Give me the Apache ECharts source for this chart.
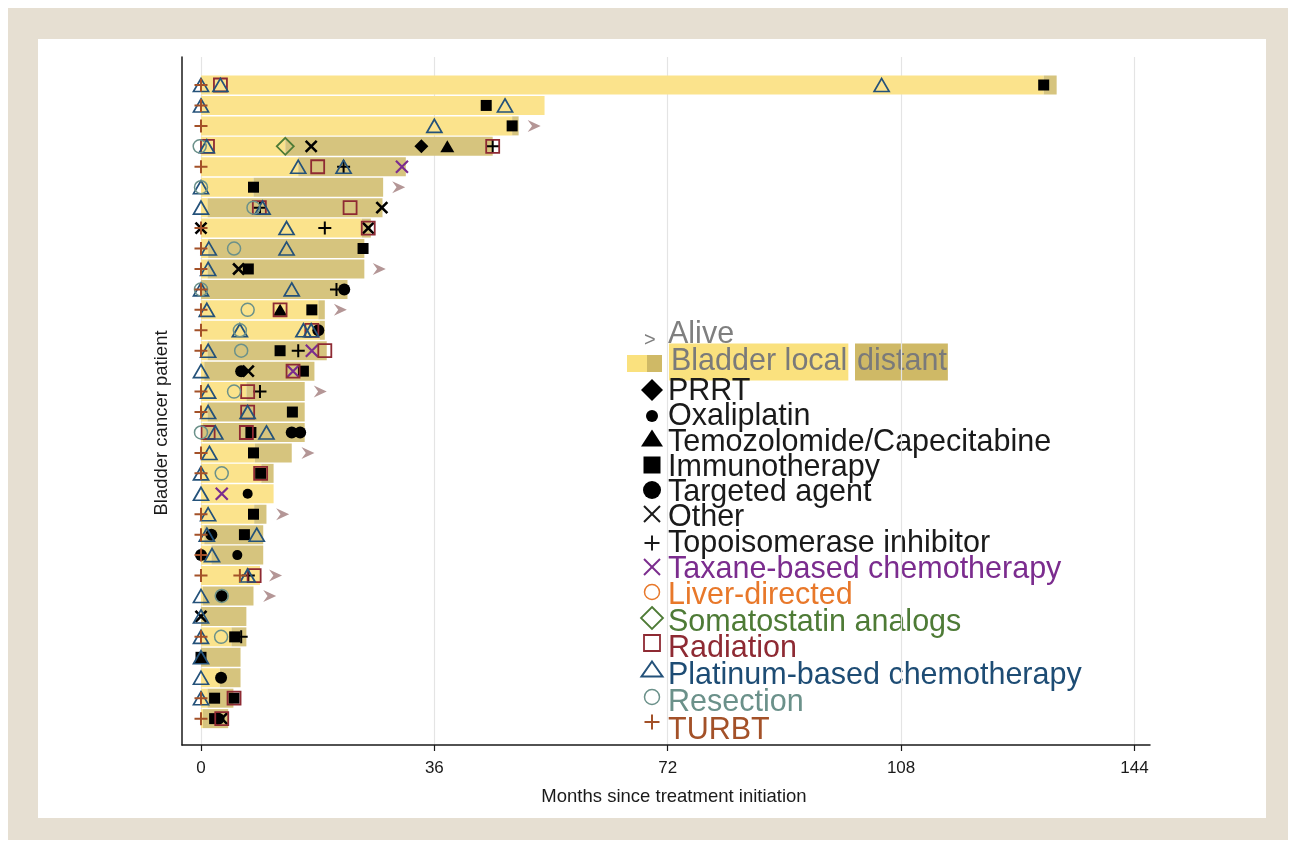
<!DOCTYPE html>
<html>
<head>
<meta charset="utf-8">
<title>Bladder cancer swimmer plot</title>
<script src="https://cdn.jsdelivr.net/npm/echarts@6/dist/echarts.min.js"></script>
<style>
  body { margin: 0; background: #fff; }
  #frame { position: absolute; left: 8px; top: 8px; width: 1280px; height: 832px; background: #e6dfd2; }
  #panel { position: absolute; left: 38px; top: 39px; width: 1228px; height: 779px; background: #fff; }
  #chart { position: absolute; left: 0; top: 0; width: 1296px; height: 848px; }
</style>
</head>
<body>
<div id="frame"></div>
<div id="panel"></div>
<div id="chart"></div>
<script>
// patients 1..32, top to bottom; all x values in months
var localEnd = [130, 53, 48, 13, 15, 8.1, 1, 24.8, 1.1, 1.0, 0, 18.1, 18.3, 1.0, 0.5, 7.0,
                1.0, 0.3, 8.3, 9.3, 11.2, 8.2, 0.5, 1.6, 9.1, 0.3, 0, 4.7, 0, 2.9, 1.0, 0.3];
var totalEnd = [132, 53, 49, 45, 31.6, 28.1, 28, 26.2, 25.2, 25.2, 22.6, 19.1, 19.1, 19.4, 17.5, 16.0,
                16.0, 16.0, 14.0, 11.2, 11.2, 10.1, 9.6, 9.6, 9.1, 8.1, 7.0, 7.0, 6.1, 6.1, 5.0, 4.2];

// [month, patient]
var alive = [[51.4,3],[30.5,6],[27.5,10],[21.5,12],[18.4,16],[16.5,19],[12.6,22],[11.5,25],[10.6,26]];
var prrt = [[34,4]];
var oxaliplatin = [[7.2,21],[5.6,24]];
var temozolomide = [[38,4],[12.2,12],[0,29]];
var immunotherapy = [[130,1],[44,2],[48,3],[8.1,6],[25,9],[7.3,10],[17.1,12],[12.2,14],[15.8,15],[14.1,17],
                     [7.7,18],[8.1,19],[9.2,20],[8.1,22],[6.7,23],[5.2,28],[0,29],[2.1,31],[5.1,31],[2.1,32]];
var targeted = [[22.1,11],[18.1,13],[6.2,15],[14.0,18],[15.3,18],[1.6,23],[0,24],[3.2,26],[3.1,30],[2.7,32]];
var other = [[17,4],[27.9,7],[0,8],[25.8,8],[5.8,10],[7.3,15],[0,27],[3.2,32]];
var topoisomerase = [[45,4],[22,5],[9.1,7],[19.1,8],[20.9,11],[15,14],[9.1,16],[7.3,25],[6.2,28]];
var taxane = [[31,5],[17.1,14],[14.2,15],[3.2,21]];
var liverDirected = [];
var somatostatin = [[13,4]];
var radiation = [[3,1],[1.0,4],[45,4],[18,5],[9.0,7],[23,7],[25.8,8],[12.2,12],[17.1,13],[19.1,14],[14.2,15],
                 [7.2,16],[7.2,17],[1.1,18],[7.0,18],[9.2,20],[8.2,25],[5.1,31],[3.2,32]];
var platinum = [[0,1],[3,1],[105,1],[0,2],[46.9,2],[36,3],[0.9,4],[15,5],[22,5],[0,6],[0,7],[9.5,7],[13.2,8],
                [1.2,9],[13.2,9],[1.1,10],[0,11],[14.0,11],[0.9,12],[6.0,13],[15.8,13],[17.0,13],[1.1,14],[0,15],
                [1.1,16],[1.1,17],[7.2,17],[2.2,18],[10.1,18],[1.3,19],[0,20],[0,21],[1.1,22],[0.9,23],[8.6,23],
                [1.7,24],[7.2,25],[0,26],[0,27],[0,28],[0,29],[0,30],[0,31]];
var resection = [[-0.2,4],[0,6],[8.1,7],[5.1,9],[0,11],[7.2,12],[6.0,13],[6.2,14],[5.1,16],[0,18],[3.2,20],[3.2,26],[3.1,28]];
var turbt = [[0,1],[0,2],[0,3],[0,5],[0,8],[0,9],[0,10],[0,11],[0,12],[0,13],[0,14],[0,16],[0,17],[0,19],
             [0,20],[0,22],[0,23],[0,24],[0,25],[6.0,25],[0,28],[0,31],[0,32]];

var xTicks = [0, 36, 72, 108, 144];

var YELLOW = '#fbe38c', TAN = '#d6c47e';
var CROSS = 'path://M0,0L10,10M10,0L0,10';
var PLUS = 'path://M5,0L5,10M0,5L10,5';
var CHEVRON = 'path://M0,0L12,5.5L0,11L4,5.5Z';

// draw order: first is lowest
var markerSeries = [
  {name: 'Targeted agent', data: targeted, symbol: 'circle', size: 12, fill: '#000'},
  {name: 'Immunotherapy', data: immunotherapy, symbol: 'rect', size: 11, fill: '#000'},
  {name: 'Oxaliplatin', data: oxaliplatin, symbol: 'circle', size: 10, fill: '#000'},
  {name: 'Temozolomide/Capecitabine', data: temozolomide, symbol: 'triangle', size: [14, 12], fill: '#000'},
  {name: 'PRRT', data: prrt, symbol: 'diamond', size: 14, fill: '#000'},
  {name: 'Other', data: other, symbol: CROSS, size: 11, stroke: '#000', lw: 2.6},
  {name: 'Topoisomerase inhibitor', data: topoisomerase, symbol: PLUS, size: 13, stroke: '#000', lw: 2},
  {name: 'Taxane-based chemotherapy', data: taxane, symbol: CROSS, size: 12, stroke: '#7b2c8e', lw: 2.2},
  {name: 'Liver-directed', data: liverDirected, symbol: 'circle', size: 13, stroke: '#e8782a', lw: 1.5},
  {name: 'Somatostatin analogs', data: somatostatin, symbol: 'diamond', size: 17, stroke: '#4e7b36', lw: 1.8},
  {name: 'Radiation', data: radiation, symbol: 'rect', size: 13, stroke: '#8e2a33', lw: 1.8},
  {name: 'Platinum-based chemotherapy', data: platinum, symbol: 'triangle', size: [15, 13], stroke: '#24527a', lw: 1.7},
  {name: 'Resection', data: resection, symbol: 'circle', size: 13, stroke: '#6b918a', lw: 1.5},
  {name: 'TURBT', data: turbt, symbol: PLUS, size: 13, stroke: '#a35128', lw: 2},
  {name: 'Alive', data: alive, symbol: CHEVRON, size: [13, 12], fill: '#b49696'}
];

var localBars = [], distantBars = [];
for (var i = 0; i < totalEnd.length; i++) {
  if (localEnd[i] > 0) localBars.push([0, localEnd[i], i + 1]);
  if (totalEnd[i] > localEnd[i]) distantBars.push([localEnd[i], totalEnd[i], i + 1]);
}

function barItem(params, api) {
  var a = api.coord([api.value(0), api.value(2)]);
  var b = api.coord([api.value(1), api.value(2)]);
  var h = api.size([0, 1])[1] * 0.93;
  return {
    type: 'rect',
    shape: {x: a[0], y: a[1] - h / 2, width: b[0] - a[0], height: h},
    style: api.style()
  };
}

var series = [
  {type: 'custom', name: 'local', renderItem: barItem, data: localBars, encode: {x: [0, 1], y: 2},
   itemStyle: {color: YELLOW}, z: 2, silent: true},
  {type: 'custom', name: 'distant', renderItem: barItem, data: distantBars, encode: {x: [0, 1], y: 2},
   itemStyle: {color: TAN}, z: 2, silent: true}
];
markerSeries.forEach(function (m) {
  series.push({
    type: 'scatter', name: m.name, data: m.data, symbol: m.symbol, symbolSize: m.size,
    itemStyle: m.stroke ? {color: 'rgba(0,0,0,0)', borderColor: m.stroke, borderWidth: m.lw, opacity: 1}
                        : {color: m.fill, opacity: 1},
    z: 3, silent: true
  });
});

// legend (drawn as graphic)
var FONT = '"Liberation Sans", Arial, sans-serif';
var LFONT = '30.5px ' + FONT;
var legendItems = [
  {text: 'PRRT', color: '#1a1a1a', shape: 'diamond', w: 22, h: 22, fill: '#000', ty: 392, sy: 390},
  {text: 'Oxaliplatin', color: '#1a1a1a', shape: 'circle', w: 12, h: 12, fill: '#000', ty: 417, sy: 416},
  {text: 'Temozolomide/Capecitabine', color: '#1a1a1a', shape: 'triangle', w: 22, h: 17, fill: '#000', ty: 443, sy: 438},
  {text: 'Immunotherapy', color: '#1a1a1a', shape: 'square', w: 17, h: 17, fill: '#000', ty: 468, sy: 465},
  {text: 'Targeted agent', color: '#1a1a1a', shape: 'circle', w: 18, h: 18, fill: '#000', ty: 493, sy: 490},
  {text: 'Other', color: '#1a1a1a', shape: 'cross', w: 16, h: 16, stroke: '#1a1a1a', lw: 2, ty: 518, sy: 514},
  {text: 'Topoisomerase inhibitor', color: '#1a1a1a', shape: 'plus', w: 15, h: 15, stroke: '#1a1a1a', lw: 2, ty: 544, sy: 543},
  {text: 'Taxane-based chemotherapy', color: '#7b2c8e', shape: 'cross', w: 16, h: 16, stroke: '#7b2c8e', lw: 2, ty: 570, sy: 567},
  {text: 'Liver-directed', color: '#e8782a', shape: 'circle', w: 15, h: 15, stroke: '#e8782a', lw: 1.5, ty: 596, sy: 592},
  {text: 'Somatostatin analogs', color: '#4e7b36', shape: 'diamond', w: 22, h: 22, stroke: '#4e7b36', lw: 1.8, ty: 623, sy: 618},
  {text: 'Radiation', color: '#8e2a33', shape: 'square', w: 16, h: 16, stroke: '#8e2a33', lw: 1.8, ty: 649, sy: 643},
  {text: 'Platinum-based chemotherapy', color: '#1d4c74', shape: 'triangle', w: 21, h: 15, stroke: '#24527a', lw: 2, ty: 676, sy: 669},
  {text: 'Resection', color: '#6b918a', shape: 'circle', w: 15, h: 15, stroke: '#6b918a', lw: 1.5, ty: 703, sy: 697},
  {text: 'TURBT', color: '#a35128', shape: 'plus', w: 15, h: 15, stroke: '#a35128', lw: 2, ty: 731, sy: 722}
];

function legendIcon(it, cx, cy) {
  var style = it.stroke ? {fill: 'none', stroke: it.stroke, lineWidth: it.lw} : {fill: it.fill};
  var w = it.w / 2, h = it.h / 2;
  switch (it.shape) {
    case 'circle':
      return [{type: 'circle', shape: {cx: cx, cy: cy, r: w}, style: style}];
    case 'square':
      return [{type: 'rect', shape: {x: cx - w, y: cy - h, width: it.w, height: it.h}, style: style}];
    case 'diamond':
      return [{type: 'polygon', shape: {points: [[cx, cy - h], [cx + w, cy], [cx, cy + h], [cx - w, cy]]}, style: style}];
    case 'triangle':
      return [{type: 'polygon', shape: {points: [[cx, cy - h], [cx + w, cy + h], [cx - w, cy + h]]}, style: style}];
    case 'cross':
      return [{type: 'line', shape: {x1: cx - w, y1: cy - h, x2: cx + w, y2: cy + h}, style: style},
              {type: 'line', shape: {x1: cx + w, y1: cy - h, x2: cx - w, y2: cy + h}, style: style}];
    case 'plus':
      return [{type: 'line', shape: {x1: cx, y1: cy - h, x2: cx, y2: cy + h}, style: style},
              {type: 'line', shape: {x1: cx - w, y1: cy, x2: cx + w, y2: cy}, style: style}];
  }
  return [];
}

var graphics = [
  {type: 'text', x: 644, y: 340, style: {text: '>', fill: '#7f7f7f', font: '20px ' + FONT, verticalAlign: 'middle'}},
  {type: 'text', x: 668, y: 335, style: {text: 'Alive', fill: '#7f7f7f', font: LFONT, verticalAlign: 'middle'}},
  {type: 'rect', shape: {x: 627, y: 355, width: 20, height: 17}, style: {fill: '#fae17e'}},
  {type: 'rect', shape: {x: 647, y: 355, width: 15, height: 17}, style: {fill: '#cfb966'}},
  {type: 'text', x: 669, y: 362, style: {text: 'Bladder local', fill: '#7a7a7a', font: LFONT, verticalAlign: 'middle',
     backgroundColor: '#fae17e', padding: [3, 1, 3, 2]}},
  {type: 'text', x: 855, y: 362, style: {text: 'distant', fill: '#7a7a7a', font: LFONT, verticalAlign: 'middle',
     backgroundColor: '#cfb966', padding: [3, 1, 3, 2]}}
];
legendItems.forEach(function (it) {
  graphics = graphics.concat(legendIcon(it, 652, it.sy));
  graphics.push({type: 'text', x: 668, y: it.ty,
    style: {text: it.text, fill: it.color, font: LFONT, verticalAlign: 'middle'}});
});

var chart = echarts.init(document.getElementById('chart'));
chart.setOption({
  animation: false,
  backgroundColor: 'transparent',
  grid: {left: 182, right: 146, top: 57, bottom: 103, containLabel: false},
  xAxis: {
    type: 'value', min: -2.93, max: 146.4,
    axisLine: {show: true, onZero: false, lineStyle: {color: '#1a1a1a', width: 1.5}},
    axisTick: {show: true, customValues: xTicks, length: 6, lineStyle: {color: '#1a1a1a', width: 1.2}},
    axisLabel: {customValues: xTicks, fontSize: 17, color: '#1a1a1a', fontFamily: FONT, margin: 15},
    splitLine: {show: true, lineStyle: {color: '#e4e4e4', width: 1.2}},
    name: 'Months since treatment initiation', nameLocation: 'middle', nameGap: 42,
    nameTextStyle: {fontSize: 18.5, color: '#1a1a1a', fontFamily: FONT, padding: [0, 0, 0, 16]}
  },
  yAxis: {
    type: 'value', inverse: true, min: -0.37, max: 33.29,
    axisLine: {show: true, onZero: false, lineStyle: {color: '#1a1a1a', width: 1.5}},
    axisTick: {show: false}, axisLabel: {show: false}, splitLine: {show: false},
    name: 'Bladder cancer patient', nameLocation: 'middle', nameGap: 11,
    nameTextStyle: {fontSize: 18.5, color: '#1a1a1a', fontFamily: FONT, padding: [0, 44, 0, 0]}
  },
  graphic: graphics,
  series: series
});
</script>
</body>
</html>
